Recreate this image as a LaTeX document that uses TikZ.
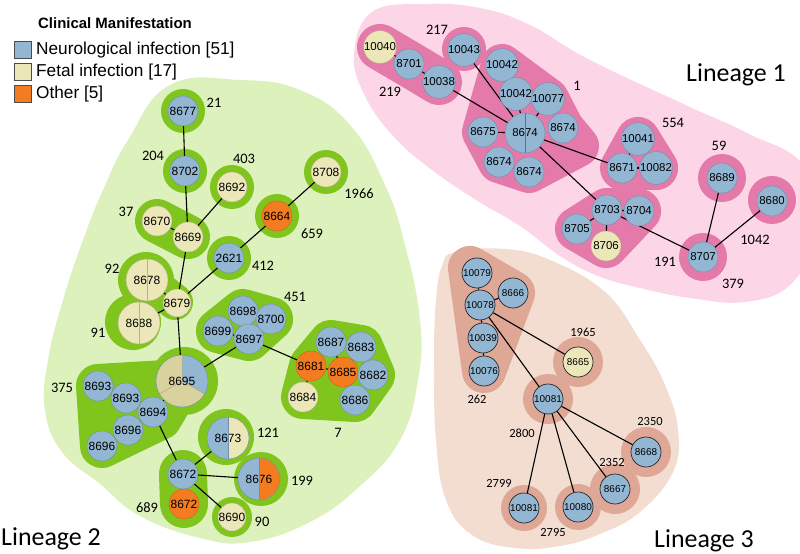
\documentclass[tikz,border=0pt]{standalone}
\usepackage{fontspec}
\setmainfont{Liberation Sans}
\newfontfamily\numfont{Carlito}
\pgfdeclarelayer{blob}
\pgfdeclarelayer{edge}
\pgfsetlayers{blob,edge,main}
\definecolor{neu}{HTML}{93B6D3}
\definecolor{neuD}{HTML}{6F8FAA}
\definecolor{fet}{HTML}{ECE7B8}
\definecolor{fetD}{HTML}{B8B28A}
\definecolor{fetS}{HTML}{D9D29E}
\definecolor{oth}{HTML}{F47C20}
\definecolor{othD}{HTML}{C9641A}
\definecolor{gbg}{HTML}{DDF1BC}
\definecolor{gring}{HTML}{80C41E}
\definecolor{pbg}{HTML}{FCD6E6}
\definecolor{pring}{HTML}{E47AAA}
\definecolor{bbg}{HTML}{F2DDD0}
\definecolor{bring}{HTML}{DFA796}
\tikzset{
 base/.style={circle, inner sep=0pt, minimum size=30bp, line width=0.4bp, font=\fontsize{12}{12}\selectfont},
 Nb/.style={base, fill=neu, draw=neuD},
 Nf/.style={base, fill=fet, draw=fetD},
 No/.style={base, fill=oth, draw=othD},
 Ne/.style={base, draw=neuD},
 Lone/.style={font=\fontsize{11.5}{12}\selectfont},
 Lthree/.style={font=\fontsize{10}{10}\selectfont, draw=black!85, line width=0.7bp},
 lbl/.style={font=\numfont\fontsize{14.5}{15}\selectfont, inner sep=0pt},
 lblc/.style={font=\numfont\fontsize{12.5}{13}\selectfont, inner sep=0pt},
 conn/.style={draw=black, line width=1.1bp},
 blobline/.style={line join=round, line cap=round},
 lin/.style={font=\numfont\fontsize{26}{28}\selectfont, inner sep=0pt, anchor=base west},
 legsq/.style={draw=black!70, line width=0.4bp, minimum size=17bp, inner sep=0pt},
 legtx/.style={font=\fontsize{17.3}{18}\selectfont, inner sep=0pt, anchor=west}
}
\begin{document}
\begin{tikzpicture}[x=1bp,y=-1bp]
\useasboundingbox (0,0) rectangle (800,554);
\begin{pgfonlayer}{blob}
\begin{scope}
\clip (0,0) rectangle (800,554);
% ---------- Lineage 2 background
\fill[gbg] plot[smooth cycle, tension=0.75] coordinates {(170,85) (128,140) (103,190) (83,240) (63,300) (48,360) (45,410) (62,452) (100,484) (140,516) (200,538) (250,542) (310,522) (360,486) (400,440) (418,380) (420,320) (405,245) (385,185) (350,125) (300,90) (240,80)};
% ---------- Lineage 1 background
\fill[pbg] plot[smooth cycle, tension=0.7] coordinates {(372,12) (425,4) (480,8) (530,25) (590,60) (690,107) (747,133) (805,168) (810,240) (790,285) (745,302) (690,298) (640,288) (598,276) (560,256) (520,226) (476,200) (432,170) (395,138) (366,98) (354,55)};
% ---------- Lineage 3 background
\fill[bbg] plot[smooth cycle, tension=0.7] coordinates {(455,252) (505,249) (550,260) (605,292) (640,340) (665,385) (678,430) (673,472) (640,512) (600,534) (560,546) (515,548) (472,535) (446,500) (436,440) (434,360) (436,300) (442,266)};
\end{scope}
% ---------- Lineage 2 rings
\fill[gring] (183,111) circle[radius=22];
\fill[gring] (185,171) circle[radius=22];
\fill[gring] (232,187) circle[radius=22];
\fill[gring] (326,172) circle[radius=22];
\fill[gring] (277,216) circle[radius=22];
\fill[gring] (229,258) circle[radius=22];
\draw[gring, blobline, line width=44bp] (157,221) -- (188,237);
\fill[gring] (146,280) circle[radius=28];
\draw[gring, blobline, line width=36bp] (147,280) -- (175,302);
\fill[gring] (133,322) circle[radius=28];
\fill[gring] (184,381) circle[radius=34];
\filldraw[gring, blobline, line width=44bp] (98,386) -- (182,381) -- (160,418) -- (102,446) -- cycle;
\filldraw[gring, blobline, line width=44bp] (243,311) -- (271,319) -- (249,339) -- (218,331) -- cycle;
\filldraw[gring, blobline, line width=44bp] (331,342) -- (361,347) -- (373,375) -- (355,400) -- (303,397) -- (311,366) -- cycle;
\fill[gring] (226,437) circle[radius=28];
\draw[gring, blobline, line width=48bp] (183,474) -- (184,504);
\fill[gring] (261,479) circle[radius=27];
\fill[gring] (232,517) circle[radius=20];
% ---------- Lineage 1 rings
\draw[pring, blobline, line width=46bp] (380,47) -- (409,64) -- (439,82);
\fill[pring] (464,49) circle[radius=22];
\filldraw[pring, blobline, line width=42bp] (502,65) -- (548,99) -- (563,128) -- (578,146) -- (529,172) -- (499,162) -- (483,132) -- cycle;
\fill[pring] (525,133) circle[radius=26];
\filldraw[pring, blobline, line width=44bp] (638,139) -- (656,168) -- (622,168) -- cycle;
\fill[pring] (722,178) circle[radius=24];
\fill[pring] (772,200) circle[radius=24];
\filldraw[pring, blobline, line width=44bp] (607,210) -- (639,211) -- (606,246) -- (577,229) -- cycle;
\fill[pring] (703,257) circle[radius=24];
% ---------- Lineage 3 rings
\filldraw[bring, blobline, line width=44bp] (470,268) -- (513,293) -- (484,371) -- cycle;
\fill[bring] (578,362) circle[radius=25];
\fill[bring] (548,399) circle[radius=25];
\fill[bring] (646,452) circle[radius=25];
\fill[bring] (615,489) circle[radius=25];
\fill[bring] (578,507) circle[radius=23];
\fill[bring] (524,508) circle[radius=23];
\end{pgfonlayer}

% ---------- Legend
\node[font=\bfseries\fontsize{15}{15}\selectfont, inner sep=0pt, anchor=west] (legt) at (38,23) {Clinical Manifestation};
\node[legsq, fill=neu] (sq1) at (22.5,50) {};
\node[legsq, fill=fet] (sq2) at (22.5,72) {};
\node[legsq, fill=oth] (sq3) at (22.5,94) {};
\node[legtx] (lt1) at (36,50) {Neurological infection [51]};
\node[legtx] (lt2) at (36,72) {Fetal infection [17]};
\node[legtx] (lt3) at (36,94) {Other [5]};

% ---------- Lineage 2 nodes
\node[Nb] (n8677) at (183,111) {8677};
\node[Nb] (n8702) at (185,171) {8702};
\node[Nf] (n8692) at (232,187) {8692};
\node[Nf] (n8708) at (326,172) {8708};
\node[No] (n8664) at (277,216) {8664};
\node[Nb] (n2621) at (229,258) {2621};
\node[Nf] (n8670) at (157,221) {8670};
\node[Nf] (n8669) at (188,237) {8669};
\node[Nf, minimum size=42bp] (n8678) at (147,280) {8678};
\draw[fetD, line width=0.6bp] (n8678.north) -- (n8678.south);
\node[Nf, minimum size=26bp] (n8679) at (177,303) {8679};
\node[Nf, minimum size=42bp] (n8688) at (139,323) {8688};
\draw[fetD, line width=0.6bp] (n8688.north) -- (n8688.south);
% 8695 pie
\fill[neu] (182,381) -- (182,355) arc[start angle=-90, end angle=30, radius=26] -- cycle;
\fill[fetS] (182,381) -- (204.5,394) arc[start angle=30, end angle=150, radius=26] -- cycle;
\fill[fetS] (182,381) -- (159.5,394) arc[start angle=150, end angle=270, radius=26] -- cycle;
\draw[fetD!80!brown, line width=0.5bp] (182,355) -- (182,381) -- (204.5,394) (182,381) -- (159.5,394);
\node[Ne, minimum size=52bp] (n8695) at (182,381) {8695};
\node[Nb] (n8693a) at (98,386) {8693};
\node[Nb] (n8693b) at (126,398) {8693};
\node[Nb] (n8694) at (153,412) {8694};
\node[Nb] (n8696a) at (128,430) {8696};
\node[Nb] (n8696b) at (102,446) {8696};
\node[Nb] (n8698) at (243,311) {8698};
\node[Nb] (n8699) at (218,331) {8699};
\node[Nb] (n8697) at (249,339) {8697};
\node[Nb] (n8700) at (271,319) {8700};
\node[Nb] (n8687) at (331,342) {8687};
\node[Nb] (n8683) at (361,347) {8683};
\node[No] (n8681) at (311,366) {8681};
\node[No] (n8685) at (343,372) {8685};
\node[Nb] (n8682) at (373,375) {8682};
\node[Nf] (n8684) at (303,397) {8684};
\node[Nb] (n8686) at (355,400) {8686};
% 8673 split
\fill[neu] (228,417) arc[start angle=-90, end angle=-270, radius=21] -- cycle;
\fill[fet] (228,417) arc[start angle=-90, end angle=90, radius=21] -- cycle;
\node[Ne, minimum size=42bp] (n8673) at (228,438) {8673};
\draw[neuD, line width=0.5bp] (n8673.north) -- (n8673.south);
\node[Nb] (n8672a) at (183,474) {8672};
\node[No] (n8672b) at (184,504) {8672};
% 8676 split
\fill[neu] (259,458) arc[start angle=-90, end angle=-270, radius=21] -- cycle;
\fill[oth] (259,458) arc[start angle=-90, end angle=90, radius=21] -- cycle;
\node[Ne, minimum size=42bp] (n8676) at (259,479) {8676};
\draw[neuD, line width=0.5bp] (n8676.north) -- (n8676.south);
\node[Nf, minimum size=28bp] (n8690) at (232,517) {8690};

% Lineage 2 labels
\node[lbl] (l21) at (214,103) {21};
\node[lbl] (l204) at (153,156) {204};
\node[lbl] (l403) at (244,159) {403};
\node[lbl] (l37) at (126,212) {37};
\node[lbl] (l1966) at (359,194) {1966};
\node[lbl] (l659) at (312,234) {659};
\node[lbl] (l412) at (263,266) {412};
\node[lbl] (l92) at (112,269) {92};
\node[lbl] (l91) at (98,333) {91};
\node[lbl] (l451) at (295,297) {451};
\node[lbl] (l375) at (62,388) {375};
\node[lbl] (l7) at (338,433) {7};
\node[lbl] (l121) at (268,433) {121};
\node[lbl] (l199) at (302,481) {199};
\node[lbl] (l90) at (262,522) {90};
\node[lbl] (l689) at (147,508) {689};
\node[lin] (lin2) at (1,545) {Lineage 2};

% ---------- Lineage 1 nodes
\node[Nf, Lone] (n10040) at (380,47) {10040};
\node[Nb, Lone] (n8701) at (409,64) {8701};
\node[Nb, Lone] (n10038) at (439,82) {10038};
\node[Nb, Lone] (n10043) at (464,50) {10043};
\node[Nb, Lone] (n10042a) at (502,65) {10042};
\node[Nb, Lone] (n10042b) at (516,94) {10042};
\node[Nb, Lone] (n10077) at (548,99) {10077};
\node[Nb, Lone] (n8675) at (483,132) {8675};
\node[Nb, Lone, minimum size=40bp] (n8674) at (525,133) {8674};
\draw[neuD!80!black, line width=0.5bp] (n8674.north) -- (n8674.south);
\node[Nb, Lone] (n8674r) at (563,128) {8674};
\node[Nb, Lone] (n8674c) at (499,162) {8674};
\node[Nb, Lone] (n8674d) at (529,172) {8674};
\node[Nb, Lone] (n10041) at (638,139) {10041};
\node[Nb, Lone] (n8671) at (622,168) {8671};
\node[Nb, Lone] (n10082) at (656,168) {10082};
\node[Nb, Lone] (n8689) at (722,178) {8689};
\node[Nb, Lone] (n8680) at (772,201) {8680};
\node[Nb, Lone] (n8703) at (607,210) {8703};
\node[Nb, Lone] (n8704) at (639,211) {8704};
\node[Nb, Lone] (n8705) at (577,229) {8705};
\node[Nf, Lone] (n8706) at (606,246) {8706};
\node[Nb, Lone] (n8707) at (703,257) {8707};
% Lineage 1 labels
\node[lbl] (l219) at (390,92) {219};
\node[lbl] (l217) at (437,30) {217};
\node[lbl] (l1) at (577,86) {1};
\node[lbl] (l554) at (673,123) {554};
\node[lbl] (l59) at (719,146) {59};
\node[lbl] (l1042) at (755,240) {1042};
\node[lbl] (l191) at (665,262) {191};
\node[lbl] (l379) at (733,284) {379};
\node[lin] (lin1) at (686,82) {Lineage 1};

% ---------- Lineage 3 nodes
\node[Nb, Lthree] (n10079) at (477,273) {10079};
\node[Nb, Lthree] (n8666) at (513,293) {8666};
\node[Nb, Lthree] (n10078) at (480,305) {10078};
\node[Nb, Lthree] (n10039) at (483,338) {10039};
\node[Nb, Lthree] (n10076) at (484,371) {10076};
\node[Nf, Lthree] (n8665) at (578,362) {8665};
\node[Nb, Lthree] (n10081a) at (548,399) {10081};
\node[Nb, Lthree] (n8668) at (646,452) {8668};
\node[Nb, Lthree] (n8667) at (615,489) {8667};
\node[Nb, Lthree] (n10080) at (578,507) {10080};
\node[Nb, Lthree] (n10081b) at (524,508) {10081};
% Lineage 3 labels
\node[lblc] (l262) at (477,399) {262};
\node[lblc] (l1965) at (583,332) {1965};
\node[lblc] (l2800) at (522,433) {2800};
\node[lblc] (l2350) at (650,421) {2350};
\node[lblc] (l2352) at (612,462) {2352};
\node[lblc] (l2799) at (499,483) {2799};
\node[lblc] (l2795) at (553,532) {2795};
\node[lin] (lin3) at (654,547) {Lineage 3};

% ---------- connectors
\begin{pgfonlayer}{edge}
\path[conn] (n8677) -- (n8702);
\path[conn] (n8702) -- (n8669);
\path[conn] (n8669) -- (n8670);
\path[conn] (n8669) -- (n8692);
\path[conn] (n8669) -- (n8679);
\path[conn] (n2621) -- (n8679);
\path[conn] (n2621) -- (n8664);
\path[conn] (n8664) -- (n8708);
\path[conn] (n8679) -- (n8678);
\path[conn] (n8679) -- (n8688);
\path[conn] (n8679) -- (n8695);
\path[conn] (n8695) -- (n8697);
\path[conn] (n8697) -- (n8699);
\path[conn] (n8697) -- (n8698);
\path[conn] (n8697) -- (n8700);
\path[conn] (n8697) -- (n8681);
\path[conn] (n8681) -- (n8685);
\path[conn] (n8681) -- (n8684);
\path[conn] (n8685) -- (n8687);
\path[conn] (n8685) -- (n8683);
\path[conn] (n8685) -- (n8682);
\path[conn] (n8685) -- (n8686);
\path[conn] (n8695) -- (n8694);
\path[conn] (n8694) -- (n8693b);
\path[conn] (n8693b) -- (n8693a);
\path[conn] (n8694) -- (n8696a);
\path[conn] (n8696a) -- (n8696b);
\path[conn] (n8694) -- (n8672a);
\path[conn] (n8672a) -- (n8673);
\path[conn] (n8672a) -- (n8676);
\path[conn] (n8672a) -- (n8690);
\path[conn] (n8672a) -- (n8672b);
\path[conn] (n10040) -- (n8701);
\path[conn] (n8701) -- (n10038);
\path[conn] (n10038) -- (n8674);
\path[conn] (n10043) -- (n8674);
\path[conn] (n10042a) -- (n10042b);
\path[conn] (n10042b) -- (n8674);
\path[conn] (n10077) -- (n8674);
\path[conn] (n8675) -- (n8674);
\path[conn] (n8674) -- (n8671);
\path[conn] (n8674) -- (n8703);
\path[conn] (n8671) -- (n10041);
\path[conn] (n8671) -- (n10082);
\path[conn] (n8703) -- (n8704);
\path[conn] (n8703) -- (n8705);
\path[conn] (n8703) -- (n8706);
\path[conn] (n8703) -- (n8707);
\path[conn] (n8689) -- (n8707);
\path[conn] (n8680) -- (n8707);
\path[conn] (n10079) -- (n10078);
\path[conn] (n10078) -- (n8666);
\path[conn] (n10078) -- (n10039);
\path[conn] (n10039) -- (n10076);
\path[conn] (n10078) -- (n8665);
\path[conn] (n10078) -- (n10081a);
\path[conn] (n10081a) -- (n10081b);
\path[conn] (n10081a) -- (n10080);
\path[conn] (n10081a) -- (n8667);
\path[conn] (n10081a) -- (n8668);
\end{pgfonlayer}
\end{tikzpicture}
\end{document}
